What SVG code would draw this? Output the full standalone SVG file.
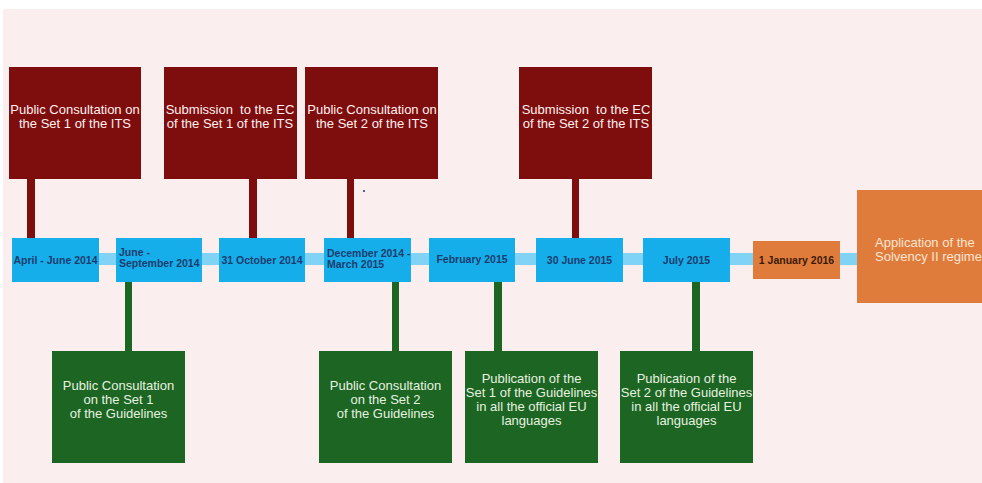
<svg xmlns="http://www.w3.org/2000/svg" width="982" height="483" viewBox="0 0 982 483">
<style>
.bg{fill:#FBEEEE}
.red{fill:#7E0D0D}
.grn{fill:#1D6522}
.blu{fill:#16AEEA}
.org{fill:#E07C3B}
.bar{fill:#80D3F5}
.tw{font-family:"Liberation Sans",Arial,sans-serif;font-size:13px;fill:#FFF0F0;text-anchor:middle;white-space:pre}
.tg{font-family:"Liberation Sans",Arial,sans-serif;font-size:13px;fill:#E6F2E0;text-anchor:middle}
.tb{font-family:"Liberation Sans",Arial,sans-serif;font-size:10.5px;font-weight:bold;fill:#1B3D6E}
.to{font-family:"Liberation Sans",Arial,sans-serif;font-size:13px;fill:#FCE4D2}
</style>
<rect x="0" y="0" width="982" height="483" fill="#ffffff"/>
<rect class="bg" x="3" y="9" width="979" height="474"/>
<g id="connectors">
<rect class="bar" x="99" y="253" width="758" height="12"/>
<rect class="red" x="27" y="178" width="8" height="61"/>
<rect class="red" x="249" y="178" width="8" height="61"/>
<rect class="red" x="347" y="178" width="7" height="61"/>
<rect class="red" x="572" y="178" width="7" height="61"/>
<rect class="grn" x="125" y="281" width="7" height="70"/>
<rect class="grn" x="392" y="281" width="7" height="70"/>
<rect class="grn" x="494" y="281" width="8" height="70"/>
<rect class="grn" x="692" y="281" width="8" height="70"/>
</g>
<g id="r1"><rect class="red" x="9" y="67" width="132" height="112"/><text class="tw" x="75" y="114">Public Consultation on</text><text class="tw" x="75" y="128">the Set 1 of the ITS</text></g>
<g id="r2"><rect class="red" x="164" y="67" width="133" height="112"/><text class="tw" x="230" y="114" xml:space="preserve">Submission  to the EC</text><text class="tw" x="230" y="128">of the Set 1 of the ITS</text></g>
<g id="r3"><rect class="red" x="305" y="67" width="133" height="112"/><text class="tw" x="372" y="114">Public Consultation on</text><text class="tw" x="372" y="128">the Set 2 of the ITS</text></g>
<g id="r4"><rect class="red" x="519" y="67" width="133" height="112"/><text class="tw" x="586" y="114" xml:space="preserve">Submission  to the EC</text><text class="tw" x="586" y="128">of the Set 2 of the ITS</text></g>
<g id="b1"><rect class="blu" x="12" y="238" width="87" height="44"/><text class="tb" x="55.5" y="264" text-anchor="middle">April - June 2014</text></g>
<g id="b2"><rect class="blu" x="116" y="238" width="86" height="44"/><text class="tb" x="119" y="256">June -</text><text class="tb" x="119" y="267">September 2014</text></g>
<g id="b3"><rect class="blu" x="219" y="238" width="86" height="44"/><text class="tb" x="262" y="264" text-anchor="middle">31 October 2014</text></g>
<g id="b4"><rect class="blu" x="324" y="238" width="87" height="44"/><text class="tb" x="327" y="257">December 2014 -</text><text class="tb" x="327" y="268">March 2015</text></g>
<g id="b5"><rect class="blu" x="429" y="238" width="86" height="44"/><text class="tb" x="472" y="263" text-anchor="middle">February 2015</text></g>
<g id="b6"><rect class="blu" x="536" y="238" width="87" height="44"/><text class="tb" x="579.5" y="264" text-anchor="middle">30 June 2015</text></g>
<g id="b7"><rect class="blu" x="643" y="238" width="87" height="44"/><text class="tb" x="686.5" y="264" text-anchor="middle">July 2015</text></g>
<g id="o1"><rect class="org" x="753" y="241" width="87" height="38"/><text class="tb" x="796.5" y="264" text-anchor="middle" style="fill:#3A1A0A">1 January 2016</text></g>
<g id="o2"><rect class="org" x="857" y="190" width="130" height="113"/><text class="to" x="875" y="247">Application of the</text><text class="to" x="875" y="261">Solvency II regime</text></g>
<g id="g1"><rect class="grn" x="52" y="351" width="133" height="112"/><text class="tg" x="118.5" y="390">Public Consultation</text><text class="tg" x="118.5" y="404">on the Set 1</text><text class="tg" x="118.5" y="418">of the Guidelines</text></g>
<g id="g2"><rect class="grn" x="319" y="351" width="133" height="112"/><text class="tg" x="385.5" y="390">Public Consultation</text><text class="tg" x="385.5" y="404">on the Set 2</text><text class="tg" x="385.5" y="418">of the Guidelines</text></g>
<g id="g3"><rect class="grn" x="465" y="351" width="133" height="112"/><text class="tg" x="531.5" y="383">Publication of the</text><text class="tg" x="531.5" y="397">Set 1 of the Guidelines</text><text class="tg" x="531.5" y="411">in all the official EU</text><text class="tg" x="531.5" y="425">languages</text></g>
<g id="g4"><rect class="grn" x="620" y="351" width="133" height="112"/><text class="tg" x="686.5" y="383">Publication of the</text><text class="tg" x="686.5" y="397">Set 2 of the Guidelines</text><text class="tg" x="686.5" y="411">in all the official EU</text><text class="tg" x="686.5" y="425">languages</text></g>
<circle cx="364" cy="191" r="1" fill="#22306a"/>
</svg>
